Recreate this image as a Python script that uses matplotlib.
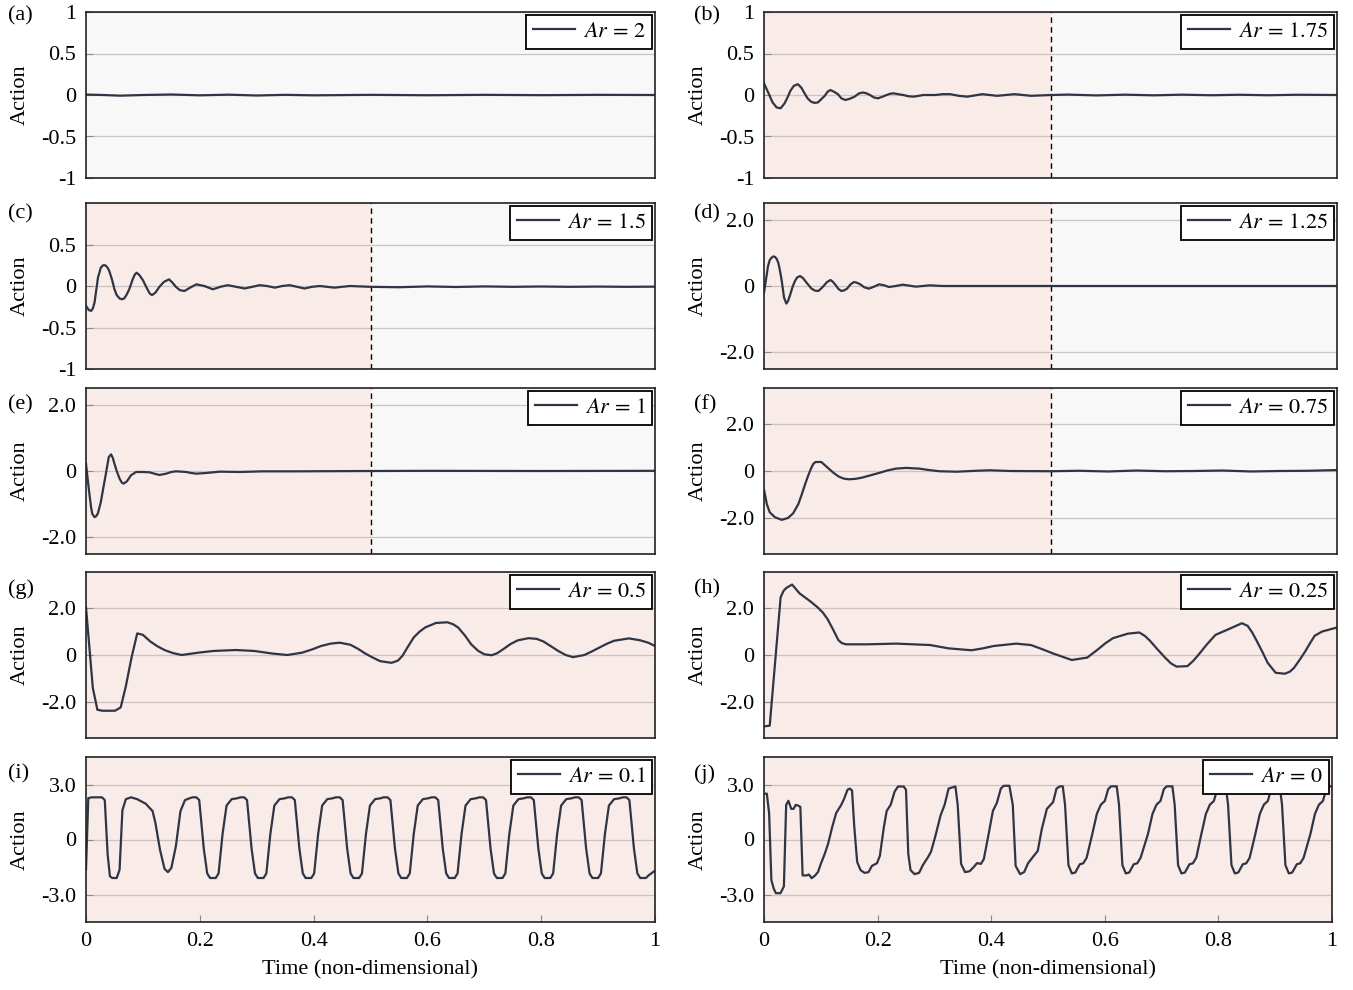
import matplotlib.pyplot as plt

plt.rcParams['font.family'] = ['Liberation Serif', 'DejaVu Serif']
plt.rcParams['mathtext.fontset'] = 'stix'

# (time, action) pairs, one list per panel
act_a = [(0.000, 0.005), (0.030, 0.000), (0.060, -0.008), (0.100, 0.000), (0.150, 0.006), (0.200, -0.004),
         (0.250, 0.004), (0.300, -0.006), (0.350, 0.002), (0.400, -0.004), (0.500, 0.002), (0.600, -0.003),
         (0.700, 0.002), (0.800, -0.002), (0.900, 0.002), (1.000, 0.000)]

act_b = [(0.000, 0.14), (0.006, 0.05), (0.015, -0.09), (0.022, -0.15), (0.029, -0.16), (0.036, -0.10),
         (0.041, -0.03), (0.046, 0.05), (0.052, 0.11), (0.059, 0.13), (0.065, 0.09), (0.070, 0.03),
         (0.076, -0.04), (0.082, -0.08), (0.088, -0.095), (0.094, -0.09), (0.100, -0.05), (0.106, -0.01),
         (0.111, 0.04), (0.116, 0.06), (0.122, 0.04), (0.129, 0.01), (0.135, -0.04), (0.142, -0.06),
         (0.150, -0.045), (0.158, -0.02), (0.166, 0.02), (0.173, 0.03), (0.179, 0.02), (0.185, 0.00),
         (0.192, -0.03), (0.199, -0.04), (0.207, -0.02), (0.214, 0.00), (0.220, 0.015), (0.226, 0.02),
         (0.234, 0.01), (0.243, 0.00), (0.252, -0.015), (0.261, -0.02), (0.270, -0.01), (0.278, 0.00),
         (0.299, 0.00), (0.312, 0.01), (0.325, 0.01), (0.340, -0.01), (0.355, -0.02), (0.368, -0.005),
         (0.381, 0.01), (0.394, 0.0), (0.407, -0.01), (0.422, 0.0), (0.437, 0.01), (0.452, 0.0),
         (0.466, -0.01), (0.500, 0.00), (0.530, 0.005), (0.580, -0.005), (0.630, 0.004), (0.680, -0.004),
         (0.730, 0.004), (0.780, -0.003), (0.830, 0.003), (0.880, -0.003), (0.930, 0.003), (1.000, 0.000)]

act_c = [(0.000, -0.24), (0.005, -0.29), (0.009, -0.30), (0.012, -0.27), (0.015, -0.20), (0.018, -0.05),
         (0.021, 0.10), (0.026, 0.22), (0.030, 0.25), (0.034, 0.25), (0.038, 0.22), (0.041, 0.18),
         (0.046, 0.07), (0.050, -0.04), (0.054, -0.11), (0.059, -0.15), (0.063, -0.16), (0.067, -0.15),
         (0.071, -0.11), (0.076, -0.04), (0.082, 0.08), (0.086, 0.14), (0.089, 0.16), (0.094, 0.13),
         (0.100, 0.07), (0.108, -0.04), (0.112, -0.09), (0.116, -0.11), (0.122, -0.08), (0.129, -0.01),
         (0.137, 0.05), (0.146, 0.08), (0.152, 0.04), (0.158, -0.01), (0.165, -0.05), (0.173, -0.06),
         (0.183, -0.02), (0.194, 0.02), (0.208, 0.00), (0.223, -0.04), (0.236, -0.01), (0.249, 0.01),
         (0.264, -0.01), (0.279, -0.03), (0.292, -0.01), (0.305, 0.01), (0.318, 0.00), (0.332, -0.02),
         (0.345, 0.00), (0.358, 0.01), (0.371, -0.01), (0.384, -0.03), (0.397, -0.01), (0.411, 0.00),
         (0.424, -0.01), (0.437, -0.02), (0.450, -0.01), (0.464, 0.00), (0.500, -0.01), (0.550, -0.015),
         (0.600, -0.005), (0.650, -0.012), (0.700, -0.005), (0.750, -0.010), (0.800, -0.006), (0.850, -0.010),
         (0.900, -0.007), (0.950, -0.010), (1.000, -0.008)]

act_d = [(0.000, -0.20), (0.004, 0.25), (0.007, 0.60), (0.010, 0.78), (0.013, 0.85), (0.016, 0.89),
         (0.019, 0.88), (0.022, 0.82), (0.025, 0.70), (0.028, 0.45), (0.031, 0.15), (0.035, -0.35),
         (0.039, -0.53), (0.042, -0.45), (0.045, -0.30), (0.050, -0.02), (0.054, 0.15), (0.058, 0.26),
         (0.063, 0.30), (0.068, 0.24), (0.072, 0.15), (0.078, 0.02), (0.083, -0.08), (0.089, -0.14),
         (0.095, -0.15), (0.100, -0.07), (0.104, 0.00), (0.110, 0.12), (0.116, 0.18), (0.120, 0.13),
         (0.124, 0.05), (0.130, -0.09), (0.135, -0.15), (0.140, -0.13), (0.145, -0.08), (0.151, 0.05),
         (0.157, 0.12), (0.162, 0.10), (0.168, 0.05), (0.175, -0.04), (0.183, -0.08), (0.192, -0.02),
         (0.201, 0.05), (0.210, 0.02), (0.218, -0.03), (0.230, 0.00), (0.242, 0.04), (0.254, 0.01),
         (0.265, -0.02), (0.277, 0.00), (0.289, 0.02), (0.312, 0.00), (0.500, 0.00), (1.000, 0.00)]

act_e = [(0.000, 0.22), (0.003, -0.25), (0.006, -0.69), (0.009, -1.10), (0.011, -1.29), (0.015, -1.39),
         (0.018, -1.36), (0.021, -1.27), (0.026, -0.94), (0.030, -0.55), (0.035, -0.08), (0.040, 0.42),
         (0.044, 0.50), (0.047, 0.40), (0.050, 0.22), (0.054, 0.00), (0.059, -0.23), (0.063, -0.35),
         (0.066, -0.38), (0.072, -0.31), (0.079, -0.13), (0.088, -0.03), (0.100, -0.03), (0.112, -0.04),
         (0.120, -0.08), (0.129, -0.12), (0.141, -0.08), (0.150, -0.03), (0.158, -0.01), (0.168, -0.02),
         (0.176, -0.03), (0.185, -0.06), (0.194, -0.08), (0.211, -0.06), (0.235, -0.02), (0.270, -0.03),
         (0.311, -0.01), (0.370, -0.01), (0.500, 0.00), (0.600, 0.005), (0.800, 0.000), (1.000, 0.005)]

act_f = [(0.000, -0.79), (0.005, -1.40), (0.010, -1.74), (0.019, -1.95), (0.031, -2.06), (0.042, -1.98),
         (0.051, -1.78), (0.060, -1.39), (0.066, -0.98), (0.072, -0.54), (0.077, -0.20), (0.082, 0.10),
         (0.086, 0.30), (0.090, 0.38), (0.100, 0.38), (0.106, 0.25), (0.113, 0.10), (0.121, -0.07),
         (0.130, -0.23), (0.139, -0.32), (0.148, -0.35), (0.160, -0.33), (0.171, -0.28), (0.186, -0.18),
         (0.201, -0.08), (0.215, 0.02), (0.230, 0.10), (0.248, 0.13), (0.271, 0.10), (0.288, 0.04),
         (0.306, -0.01), (0.336, -0.03), (0.371, 0.01), (0.394, 0.03), (0.430, 0.00), (0.500, -0.01),
         (0.550, 0.01), (0.600, -0.02), (0.650, 0.02), (0.700, -0.01), (0.750, 0.00), (0.800, 0.02),
         (0.850, -0.02), (0.900, 0.00), (0.950, 0.01), (1.000, 0.04)]

act_g = [(0.000, 2.01), (0.012, -1.39), (0.020, -2.31), (0.029, -2.35), (0.051, -2.35), (0.061, -2.21),
         (0.070, -1.32), (0.080, -0.11), (0.090, 0.91), (0.100, 0.85), (0.113, 0.57), (0.126, 0.36),
         (0.139, 0.20), (0.153, 0.08), (0.168, 0.00), (0.183, 0.05), (0.198, 0.10), (0.224, 0.17),
         (0.263, 0.21), (0.296, 0.17), (0.328, 0.06), (0.354, 0.00), (0.380, 0.10), (0.398, 0.24),
         (0.413, 0.38), (0.430, 0.48), (0.446, 0.52), (0.465, 0.43), (0.478, 0.26), (0.491, 0.06),
         (0.505, -0.12), (0.517, -0.26), (0.537, -0.33), (0.548, -0.24), (0.556, -0.04), (0.566, 0.36),
         (0.576, 0.74), (0.586, 0.98), (0.596, 1.16), (0.615, 1.35), (0.635, 1.38), (0.645, 1.30),
         (0.654, 1.16), (0.666, 0.82), (0.677, 0.45), (0.689, 0.18), (0.700, 0.03), (0.713, -0.01),
         (0.723, 0.08), (0.733, 0.24), (0.746, 0.46), (0.759, 0.62), (0.778, 0.71), (0.792, 0.68),
         (0.804, 0.57), (0.817, 0.37), (0.830, 0.17), (0.843, 0.00), (0.856, -0.09), (0.876, 0.00),
         (0.889, 0.15), (0.902, 0.31), (0.915, 0.47), (0.928, 0.60), (0.954, 0.70), (0.974, 0.62),
         (0.988, 0.52), (1.000, 0.38)]

act_h = [(0.000, -3.01), (0.010, -2.98), (0.029, 2.43), (0.034, 2.70), (0.039, 2.83), (0.049, 2.97),
         (0.055, 2.80), (0.062, 2.60), (0.081, 2.26), (0.094, 2.00), (0.103, 1.78), (0.111, 1.51),
         (0.120, 1.10), (0.130, 0.62), (0.136, 0.50), (0.143, 0.45), (0.179, 0.45), (0.231, 0.48),
         (0.290, 0.42), (0.322, 0.28), (0.362, 0.20), (0.382, 0.28), (0.401, 0.38), (0.440, 0.48),
         (0.466, 0.42), (0.485, 0.25), (0.505, 0.06), (0.537, -0.21), (0.564, -0.11), (0.583, 0.24),
         (0.596, 0.50), (0.609, 0.71), (0.635, 0.90), (0.655, 0.95), (0.665, 0.80), (0.674, 0.59),
         (0.687, 0.23), (0.700, -0.11), (0.710, -0.35), (0.720, -0.49), (0.739, -0.47), (0.749, -0.25),
         (0.759, 0.03), (0.773, 0.45), (0.788, 0.85), (0.811, 1.09), (0.834, 1.34), (0.844, 1.23),
         (0.852, 0.95), (0.860, 0.59), (0.870, 0.12), (0.879, -0.33), (0.893, -0.75), (0.909, -0.79),
         (0.918, -0.70), (0.925, -0.54), (0.935, -0.20), (0.945, 0.17), (0.953, 0.50), (0.961, 0.81),
         (0.974, 0.99), (1.000, 1.16)]

act_i = [(0.000, -1.65), (0.004, 2.25), (0.010, 2.30), (0.028, 2.30), (0.033, 2.15), (0.038, -0.80),
         (0.042, -2.00), (0.046, -2.10), (0.054, -2.10), (0.059, -1.65), (0.064, 1.60), (0.070, 2.20),
         (0.079, 2.30), (0.090, 2.20), (0.105, 1.95), (0.117, 1.55), (0.122, 0.90), (0.130, -0.55),
         (0.138, -1.60), (0.144, -1.78), (0.150, -1.55), (0.158, -0.36), (0.166, 1.55), (0.174, 2.15),
         (0.182, 2.25), (0.187, 2.30), (0.194, 2.30), (0.199, 2.15), (0.207, -0.50), (0.213, -1.85),
         (0.218, -2.10), (0.228, -2.10), (0.233, -1.85), (0.240, 0.30), (0.247, 1.85), (0.256, 2.20),
         (0.266, 2.25), (0.271, 2.30), (0.278, 2.30), (0.283, 2.15), (0.291, -0.50), (0.297, -1.85),
         (0.302, -2.10), (0.312, -2.10), (0.317, -1.85), (0.324, 0.30), (0.331, 1.85), (0.340, 2.20),
         (0.350, 2.25), (0.355, 2.30), (0.362, 2.30), (0.367, 2.15), (0.375, -0.50), (0.381, -1.85),
         (0.386, -2.10), (0.396, -2.10), (0.401, -1.85), (0.408, 0.30), (0.415, 1.85), (0.424, 2.20),
         (0.434, 2.25), (0.439, 2.30), (0.446, 2.30), (0.451, 2.15), (0.459, -0.50), (0.465, -1.85),
         (0.470, -2.10), (0.480, -2.10), (0.485, -1.85), (0.492, 0.30), (0.499, 1.85), (0.508, 2.20),
         (0.518, 2.25), (0.523, 2.30), (0.530, 2.30), (0.535, 2.15), (0.543, -0.50), (0.549, -1.85),
         (0.554, -2.10), (0.564, -2.10), (0.569, -1.85), (0.576, 0.30), (0.583, 1.85), (0.592, 2.20),
         (0.602, 2.25), (0.607, 2.30), (0.614, 2.30), (0.619, 2.15), (0.627, -0.50), (0.633, -1.85),
         (0.638, -2.10), (0.648, -2.10), (0.653, -1.85), (0.660, 0.30), (0.667, 1.85), (0.676, 2.20),
         (0.686, 2.25), (0.691, 2.30), (0.698, 2.30), (0.703, 2.15), (0.711, -0.50), (0.717, -1.85),
         (0.722, -2.10), (0.732, -2.10), (0.737, -1.85), (0.744, 0.30), (0.751, 1.85), (0.760, 2.20),
         (0.770, 2.25), (0.775, 2.30), (0.782, 2.30), (0.787, 2.15), (0.795, -0.50), (0.801, -1.85),
         (0.806, -2.10), (0.816, -2.10), (0.821, -1.85), (0.828, 0.30), (0.835, 1.85), (0.844, 2.20),
         (0.854, 2.25), (0.859, 2.30), (0.866, 2.30), (0.871, 2.15), (0.879, -0.50), (0.885, -1.85),
         (0.890, -2.10), (0.900, -2.10), (0.905, -1.85), (0.912, 0.30), (0.919, 1.85), (0.928, 2.20),
         (0.938, 2.25), (0.943, 2.30), (0.950, 2.30), (0.955, 2.15), (0.963, -0.50), (0.969, -1.85),
         (0.974, -2.10), (0.984, -2.10), (0.989, -1.95), (1.000, -1.70)]

act_j = [(0.000, 2.50), (0.005, 2.50), (0.009, 1.44), (0.013, -2.22), (0.017, -2.67), (0.021, -2.93),
         (0.029, -2.93), (0.035, -2.56), (0.039, 1.89), (0.043, 2.11), (0.048, 1.67), (0.052, 1.67),
         (0.056, 1.89), (0.060, 1.85), (0.064, 1.78), (0.068, -1.96), (0.075, -1.96), (0.079, -1.91),
         (0.084, -2.11), (0.090, -1.96), (0.095, -1.78), (0.100, -1.33), (0.107, -0.78), (0.113, -0.22),
         (0.120, 0.67), (0.127, 1.44), (0.136, 1.89), (0.141, 2.22), (0.147, 2.71), (0.151, 2.78),
         (0.155, 2.67), (0.159, 0.67), (0.164, -1.22), (0.170, -1.67), (0.177, -1.82), (0.184, -1.78),
         (0.190, -1.44), (0.199, -1.29), (0.204, -0.89), (0.211, 0.67), (0.216, 1.56), (0.223, 1.89),
         (0.230, 2.62), (0.236, 2.89), (0.246, 2.89), (0.250, 2.71), (0.254, -0.78), (0.258, -1.67),
         (0.265, -1.89), (0.273, -1.82), (0.280, -1.38), (0.288, -1.00), (0.294, -0.67), (0.302, 0.22),
         (0.311, 1.33), (0.318, 1.89), (0.325, 2.78), (0.337, 2.89), (0.341, 1.89), (0.347, -1.33),
         (0.354, -1.78), (0.362, -1.73), (0.369, -1.51), (0.375, -1.29), (0.382, -1.33), (0.387, -1.07),
         (0.395, 0.22), (0.403, 1.56), (0.410, 2.00), (0.417, 2.78), (0.422, 2.93), (0.432, 2.93),
         (0.438, 1.89), (0.443, -1.44), (0.451, -1.89), (0.458, -1.78), (0.465, -1.29), (0.474, -0.93),
         (0.482, -0.62), (0.489, 0.56), (0.498, 1.67), (0.509, 2.04), (0.515, 2.78), (0.521, 2.90),
         (0.526, 2.90), (0.530, 1.90), (0.536, -1.40), (0.542, -1.85), (0.548, -1.80), (0.556, -1.35),
         (0.562, -1.30), (0.568, -1.00), (0.578, 0.30), (0.586, 1.40), (0.593, 1.90), (0.600, 2.10),
         (0.606, 2.75), (0.611, 2.90), (0.621, 2.90), (0.625, 1.90), (0.631, -1.40), (0.637, -1.85),
         (0.643, -1.80), (0.651, -1.35), (0.657, -1.30), (0.663, -1.00), (0.676, 0.30), (0.684, 1.40),
         (0.691, 1.90), (0.698, 2.10), (0.704, 2.75), (0.709, 2.90), (0.719, 2.90), (0.723, 1.90),
         (0.729, -1.40), (0.735, -1.85), (0.741, -1.80), (0.749, -1.35), (0.755, -1.30), (0.761, -1.00),
         (0.770, 0.30), (0.778, 1.40), (0.785, 1.90), (0.792, 2.10), (0.798, 2.75), (0.803, 2.90),
         (0.813, 2.90), (0.817, 1.90), (0.823, -1.40), (0.829, -1.85), (0.835, -1.80), (0.843, -1.35),
         (0.849, -1.30), (0.855, -1.00), (0.865, 0.30), (0.873, 1.40), (0.880, 1.90), (0.887, 2.10),
         (0.893, 2.75), (0.898, 2.90), (0.908, 2.90), (0.912, 1.90), (0.918, -1.40), (0.924, -1.85),
         (0.930, -1.80), (0.938, -1.35), (0.944, -1.30), (0.950, -1.00), (0.962, 0.30), (0.970, 1.40),
         (0.977, 1.90), (0.984, 2.10), (0.990, 2.75), (0.995, 2.90), (1.000, 2.90)]

panel_data = [act_a, act_b, act_c, act_d, act_e, act_f, act_g, act_h, act_i, act_j]
panel_tags = ["(a)", "(b)", "(c)", "(d)", "(e)", "(f)", "(g)", "(h)", "(i)", "(j)"]
ar_values = ["2", "1.75", "1.5", "1.25", "1", "0.75", "0.5", "0.25", "0.1", "0"]
pink_until = [0, 0.5, 0.5, 0.5, 0.5, 0.5, 1, 1, 1, 1]
y_lims = [1, 1, 1, 2.5, 2.5, 3.5, 3.5, 3.5, 4.5, 4.5]
y_ticks = [[-1, -0.5, 0, 0.5, 1], [-1, -0.5, 0, 0.5, 1], [-1, -0.5, 0, 0.5], [-2, 0, 2], [-2, 0, 2],
           [-2, 0, 2], [-2, 0, 2], [-2, 0, 2], [-3, 0, 3], [-3, 0, 3]]
y_tick_labels = [["-1", "-0.5", "0", "0.5", "1"], ["-1", "-0.5", "0", "0.5", "1"], ["-1", "-0.5", "0", "0.5"],
                 ["-2.0", "0", "2.0"], ["-2.0", "0", "2.0"], ["-2.0", "0", "2.0"], ["-2.0", "0", "2.0"],
                 ["-2.0", "0", "2.0"], ["-3.0", "0", "3.0"], ["-3.0", "0", "3.0"]]
x_ticks = [0, 0.2, 0.4, 0.6, 0.8, 1]
x_tick_labels = ["0", "0.2", "0.4", "0.6", "0.8", "1"]

W, H = 1353, 990
# axes boxes in pixels
col_x = [(86, 655), (764, 1337)]
row_y = [(12, 178), (203, 369), (388, 554), (572, 738), (757, 922)]
tag_y = [16, 214, 405, 589, 774]

line_color = '#2f3545'
pink = '#f9ebe7'
grey = '#f8f8f8'
fs = 16

fig = plt.figure(figsize=(W / 100, H / 100), dpi=100)

for k in range(10):
    row, col = k // 2, k % 2
    x0, x1 = col_x[col]
    if k == 9:
        x1 = 1332
    y0, y1 = row_y[row]
    ax = fig.add_axes([x0 / W, 1 - y1 / H, (x1 - x0) / W, (y1 - y0) / H])

    p = pink_until[k]
    if p > 0:
        ax.axvspan(0, p, color=pink, lw=0, zorder=0)
    if p < 1:
        ax.axvspan(p, 1, color=grey, lw=0, zorder=0)
    if 0 < p < 1:
        ax.axvline(p, color='black', ls=(0, (4, 3)), lw=1.0, zorder=3)

    t = [pt[0] for pt in panel_data[k]]
    a = [pt[1] for pt in panel_data[k]]
    ax.plot(t, a, color=line_color, lw=1.6, zorder=4, label=r'$Ar\,=\,' + ar_values[k] + '$')

    ax.set_xlim(0, 1)
    ax.set_ylim(-y_lims[k], y_lims[k])
    ax.set_yticks(y_ticks[k])
    ax.set_yticklabels(y_tick_labels[k])
    for yv in y_ticks[k]:
        ax.axhline(yv, color='#cbc3c1', lw=0.9, zorder=1)

    ax.tick_params(axis='y', direction='in', length=5, color='#8a8a8a', labelsize=fs, pad=7)
    if row == 4:
        ax.set_xticks(x_ticks)
        ax.set_xticklabels(x_tick_labels)
        ax.tick_params(axis='x', direction='in', length=5, color='#8a8a8a', labelsize=fs, pad=7)
        ax.set_xlabel('Time (non-dimensional)', fontsize=fs, labelpad=7)
    else:
        ax.tick_params(axis='x', bottom=False, labelbottom=False)

    for s in ax.spines.values():
        s.set_color('#222222')
        s.set_linewidth(1.2)
        s.set_zorder(5)

    ax.set_ylabel('Action', fontsize=fs)
    ax.yaxis.set_label_coords((30 - x0 + (678 if col else 0)) / (x1 - x0), 0.5)

    leg = ax.legend(loc='upper right', fancybox=False, framealpha=1, edgecolor='black', fontsize=fs,
                    borderaxespad=0.12, handlelength=1.9, handletextpad=0.35, borderpad=0.3)
    leg.get_frame().set_linewidth(1.3)
    leg.set_zorder(6)

    tag_x = 8 if col == 0 else 694
    fig.text(tag_x / W, 1 - tag_y[row] / H, panel_tags[k], fontsize=fs, va='center', ha='left')

fig.savefig('out.png', dpi=100)
